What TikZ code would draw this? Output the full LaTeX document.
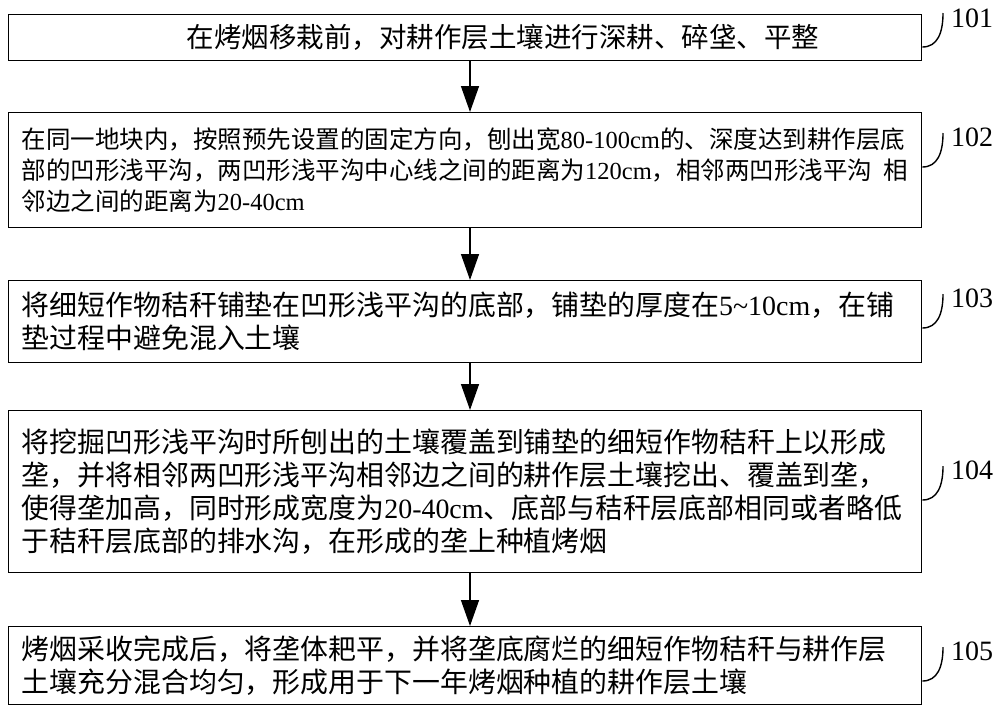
\documentclass[tikz,border=0pt]{standalone}
\usepackage{fontspec}
\setmainfont{Noto Sans CJK SC}
\newfontfamily\latfont{Liberation Serif}
\newcommand\la[1]{\mbox{\latfont #1}}
\usetikzlibrary{arrows.meta,calc}
\hbadness=10000 \hfuzz=200pt
\tikzset{
  stepbox/.style={draw=black, line width=1.4pt, rectangle, anchor=north west,
    minimum width=913pt, inner xsep=13pt, inner ysep=0pt, text width=887pt, align=left,
    font=\fontsize{27.9}{33}\selectfont},
  arr/.style={line width=1.4pt, -{Triangle[width=18pt,length=26pt]}},
  hook/.style={line width=1.4pt},
  lab/.style={font=\latfont\fontsize{28}{28}\selectfont, inner sep=0pt}
}
\begin{document}
\begin{tikzpicture}[x=1pt,y=-1pt]
\useasboundingbox (0,0) rectangle (1000,716);
\node[stepbox, minimum height=46pt, font=\fontsize{27.5}{33}\selectfont] (b1) at (8,14) {\hspace*{165pt}在烤烟移栽前，对耕作层土壤进行深耕、碎垡、平整};
\node[stepbox, minimum height=115pt, font=\fontsize{24.5}{31}\selectfont] (b2) at (8,112) {\mbox{在同一地块内，按照预先设置的固定方向，刨出宽\la{80-100cm}的、深度达到耕作层底}\\\mbox{部的凹形浅平沟，两凹形浅平沟中心线之间的距离为\la{120cm}，相邻两凹形浅平沟\kern0.45em 相}\\邻边之间的距离为\la{20-40cm}};
\node[stepbox, minimum height=82pt] (b3) at (8,280) {将细短作物秸秆铺垫在凹形浅平沟的底部，铺垫的厚度在\la{5\textasciitilde10cm}，在铺\\垫过程中避免混入土壤};
\node[stepbox, minimum height=162pt] (b4) at (8,410) {将挖掘凹形浅平沟时所刨出的土壤覆盖到铺垫的细短作物秸秆上以形成\\垄，并将相邻两凹形浅平沟相邻边之间的耕作层土壤挖出、覆盖到垄，\\使得垄加高，同时形成宽度为\la{20-40cm}、底部与秸秆层底部相同或者略低\\于秸秆层底部的排水沟，在形成的垄上种植烤烟};
\node[stepbox, minimum height=78pt] (b5) at (8,626) {烤烟采收完成后，将垄体耙平，并将垄底腐烂的细短作物秸秆与耕作层\\土壤充分混合均匀，形成用于下一年烤烟种植的耕作层土壤};

\coordinate (ax) at (470,0);
\draw[arr] (b1.south -| ax) -- (b2.north -| ax);
\draw[arr] (b2.south -| ax) -- (b3.north -| ax);
\draw[arr] (b3.south -| ax) -- (b4.north -| ax);
\draw[arr] (b4.south -| ax) -- (b5.north -| ax);

\node[lab] (l1) at (972,18) {101};
\node[lab] (l2) at (972,137) {102};
\node[lab] (l3) at (972,298) {103};
\node[lab] (l4) at (972,470) {104};
\node[lab] (l5) at (972,651) {105};

\foreach \i/\t in {1/13,2/133,3/294,4/466,5/647}{
  \coordinate (h\i) at (943,\t);
  \draw[hook] ($(b\i.east |- h\i)+(0,34)$) .. controls +(15,0) and +(0,20) .. (h\i);
}
\end{tikzpicture}
\end{document}
